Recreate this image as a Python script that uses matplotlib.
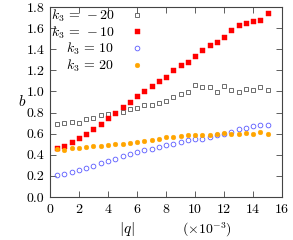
import numpy as np
import matplotlib
matplotlib.use('Agg')
import matplotlib.pyplot as plt

plt.rcParams['font.family'] = 'cmr10'
plt.rcParams['mathtext.fontset'] = 'cm'
plt.rcParams['axes.unicode_minus'] = False
plt.rcParams['axes.formatter.use_mathtext'] = True

# |q| in units of 1e-3
q = [0.5, 1.0, 1.5, 2.0, 2.5, 3.0, 3.5, 4.0, 4.5, 5.0,
     5.5, 6.0, 6.5, 7.0, 7.5, 8.0, 8.5, 9.0, 9.5, 10.0,
     10.5, 11.0, 11.5, 12.0, 12.5, 13.0, 13.5, 14.0, 14.5, 15.0]

b_m20 = [0.69, 0.70, 0.71, 0.705, 0.737, 0.753, 0.775, 0.79, 0.80, 0.81,
         0.83, 0.845, 0.867, 0.867, 0.886, 0.905, 0.943, 0.98, 0.99, 1.057,
         1.044, 1.038, 0.99, 1.047, 1.01, 0.996, 1.02, 1.01, 1.04, 1.01]
b_m10 = [0.46, 0.48, 0.52, 0.557, 0.60, 0.645, 0.69, 0.75, 0.80, 0.85,
         0.90, 0.96, 1.005, 1.047, 1.098, 1.14, 1.20, 1.246, 1.278, 1.34,
         1.39, 1.44, 1.47, 1.52, 1.58, 1.63, 1.65, 1.67, 1.68, 1.745]
b_p10 = [0.209, 0.222, 0.237, 0.253, 0.275, 0.294, 0.32, 0.342, 0.364, 0.386,
         0.405, 0.43, 0.445, 0.459, 0.474, 0.49, 0.506, 0.522, 0.538, 0.55,
         0.554, 0.57, 0.588, 0.60, 0.617, 0.642, 0.658, 0.67, 0.683, 0.68]
b_p20 = [0.453, 0.45, 0.462, 0.465, 0.474, 0.484, 0.487, 0.493, 0.50, 0.506,
         0.516, 0.522, 0.53, 0.54, 0.55, 0.566, 0.573, 0.579, 0.585, 0.588,
         0.588, 0.59, 0.595, 0.604, 0.598, 0.598, 0.61, 0.598, 0.617, 0.60]

labels = [r'$k_3\,=\,-20$', r'$k_3\,=\,-10$', r'$k_3\,=\,10$', r'$k_3\,=\,20$']

fig = plt.figure(figsize=(2.93, 2.40), dpi=100)
ax = fig.add_axes([0.1706, 0.179, 0.792, 0.792])

ax.plot(q, b_m20, ls='none', marker='s', ms=3.2, mfc='none', mec='#555555',
        mew=0.6, label=labels[0])
ax.plot(q, b_m10, ls='none', marker='s', ms=3.6, mfc='#ff0000', mec='#ff0000',
        mew=0.3, label=labels[1])
ax.plot(q, b_p10, ls='none', marker='o', ms=3.4, mfc='none', mec='#5a5aff',
        mew=0.6, label=labels[2])
ax.plot(q, b_p20, ls='none', marker='o', ms=3.4, mfc='#ffa500', mec='#ffa500',
        mew=0.3, label=labels[3])

ax.set_xlim(0, 16)
ax.set_ylim(0, 1.8)
ax.set_xticks(np.arange(0, 17, 2))
ax.set_yticks(np.arange(0, 1.81, 0.2))
ax.yaxis.set_major_formatter(matplotlib.ticker.FormatStrFormatter('%.1f'))
ax.tick_params(direction='in', top=True, right=True, length=4, width=0.6,
               labelsize=10, pad=4, color='#444444')
for s in ax.spines.values():
    s.set_linewidth(0.8)
    s.set_color('#444444')

ax.text(-0.12, 0.505, r'$b$', transform=ax.transAxes, fontsize=11,
        ha='center', va='center')
ax.text(0.33, -0.17, r'$|q|$', transform=ax.transAxes, fontsize=11,
        ha='center', va='center')
ax.text(0.677, -0.17, r'$(\times 10^{-3})$', transform=ax.transAxes,
        fontsize=10, ha='center', va='center')

ax.legend(loc='upper left', markerfirst=False, frameon=False, fontsize=10,
          handlelength=1.2, handletextpad=1.0, labelspacing=0.02,
          borderaxespad=0.0, borderpad=0.05, numpoints=1)

fig.savefig('out.png', dpi=100)
